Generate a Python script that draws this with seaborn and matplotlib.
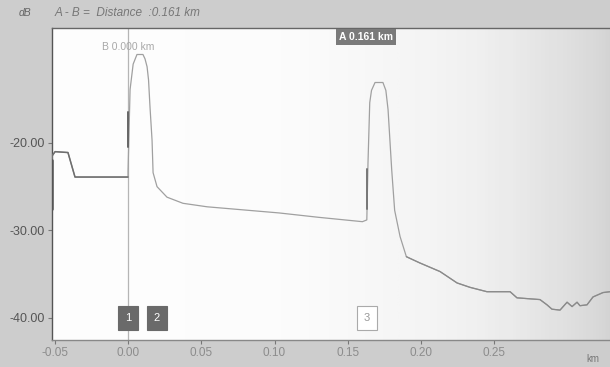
import numpy as np
import matplotlib.pyplot as plt
import pandas as pd
import seaborn as sns

# OTDR trace
dist_km = [-0.0519, -0.0519, -0.0498, -0.0410, -0.0362, -0.0014, 0.0000, 0.0000,
           0.0014, 0.0035, 0.0061, 0.0102, 0.0116, 0.0130, 0.0140, 0.0150, 0.0164,
           0.0171, 0.0198, 0.0266, 0.0375, 0.0540, 0.0750, 0.1030, 0.1300, 0.1600,
           0.1630, 0.1638, 0.1650, 0.1662, 0.1686, 0.1740, 0.1760, 0.1775, 0.1800,
           0.1820, 0.1857, 0.1900, 0.1990, 0.2130, 0.2246, 0.2334, 0.2450, 0.2608,
           0.2655, 0.2812, 0.2860, 0.2894, 0.2949, 0.2997, 0.3031, 0.3065, 0.3085,
           0.3133, 0.3174, 0.3242, 0.3290]
loss_db = [-27.5, -21.5, -21.0, -21.1, -23.9, -23.9, -23.9, -23.3,
           -13.9, -11.0, -9.9, -9.9, -10.4, -11.3, -12.8, -15.9, -19.7,
           -23.4, -25.0, -26.2, -26.9, -27.3, -27.6, -28.0, -28.5, -29.0,
           -28.8, -22.3, -15.4, -14.0, -13.1, -13.1, -14.0, -16.2, -23.1,
           -27.7, -30.7, -33.0, -33.7, -34.7, -36.0, -36.5, -37.0, -37.0,
           -37.7, -37.9, -38.5, -39.0, -39.1, -38.2, -38.7, -38.2, -38.6,
           -38.5, -37.6, -37.1, -37.0]

event_ids = ["1", "2", "3"]
event_km = [0.0, 0.0198, 0.163]
cursor_a = 0.161
cursor_b = 0.000

xticks = [-0.05, 0.00, 0.05, 0.10, 0.15, 0.20, 0.25]
yticks = [-20, -30, -40]

df = pd.DataFrame({"km": dist_km, "dB": loss_db})

sns.set_theme(style="white")
plt.rcParams['font.family'] = ['Liberation Sans', 'DejaVu Sans']

fig = plt.figure(figsize=(6.1, 3.67), dpi=100, facecolor='#cdcdcd')
ax = fig.add_axes([0.085, 0.074, 0.915, 0.85])
ax.set_facecolor('#f4f4f4')

# soft photo-like shading toward the right edge
grad = np.linspace(0, 1, 200) ** 3
ax.imshow(np.tile(grad, (10, 1)), extent=[0, 1, 0, 1], transform=ax.transAxes,
          cmap='Greys', vmin=0, vmax=3.5, aspect='auto', zorder=0, alpha=0.9)

sns.lineplot(data=df, x="km", y="dB", sort=False, estimator=None, ax=ax,
             color='#a0a0a0', linewidth=0.9, zorder=3)
pre = df[df.km <= 0].iloc[:-1]
sns.lineplot(data=pre, x="km", y="dB", sort=False, estimator=None, ax=ax,
             color='#6e6e6e', linewidth=1.1, zorder=4)
tail = df[df.km >= 0.19]
sns.lineplot(data=tail, x="km", y="dB", sort=False, estimator=None, ax=ax,
             color='#8a8a8a', linewidth=0.9, zorder=4)
# darker launch edges
ax.plot([dist_km[0], dist_km[0]], [-27.5, -22.0], color='#555', lw=1.8, zorder=5)
ax.plot([0.0003, 0.0003], [-20.5, -16.5], color='#666', lw=1.4, zorder=5)
ax.plot([0.163, 0.163], [-27.5, -23.0], color='#777', lw=1.4, zorder=5)

# cursor B
ax.axvline(cursor_b, color='#b5b5b5', lw=0.9, zorder=2)
ax.text(cursor_b, -9.1, "B %.3f km" % cursor_b, ha='center', va='center',
        fontsize=7.5, color='#a8a8a8', zorder=6)
ax.text(cursor_a + 0.0015, -7.9, "A %.3f km" % cursor_a, ha='center', va='center',
        fontsize=7.5, color='white', fontweight='bold', zorder=6,
        bbox=dict(boxstyle='square,pad=0.25', fc='#7a7a7a', ec='none'))

# event markers
for lab, x in zip(event_ids, event_km):
    dark = lab != "3"
    ax.text(x, -40.0, lab, ha='center', va='center', fontsize=8,
            color='white' if dark else '#999999', zorder=6,
            bbox=dict(boxstyle='square,pad=0.6', fc='#6a6a6a' if dark else 'white',
                      ec='#6a6a6a' if dark else '#aaaaaa', lw=0.8))

ax.set_xlim(-0.052, 0.329)
ax.set_ylim(-42.5, -6.86)
ax.set_xticks(xticks)
ax.set_xticklabels(["%.2f" % t for t in xticks], fontsize=8.5)
ax.set_yticks(yticks)
ax.set_yticklabels(["%.2f" % t for t in yticks], fontsize=9)
ax.tick_params(axis='both', length=3, width=0.8, colors='#777', direction='out',
               left=True, bottom=True, pad=2)
for t in ax.get_xticklabels():
    t.set_color('#8c8c8c')
for t in ax.get_yticklabels():
    t.set_color('#555555')
ax.set_xlabel("")
ax.set_ylabel("")
ax.spines['right'].set_visible(False)
ax.spines['top'].set_color('#666')
ax.spines['left'].set_color('#555')
ax.spines['bottom'].set_color('#888')
for s in ['top', 'left', 'bottom']:
    ax.spines[s].set_linewidth(1.0)

fig.text(0.03, 0.965, "dB", fontsize=7.5, style='italic', color='#666', va='center')
fig.text(0.09, 0.965, "A - B =  Distance  :0.161 km", fontsize=8.5, style='italic',
         color='#777', va='center')
fig.text(0.962, 0.022, "km", fontsize=7, color='#777', va='center')

fig.savefig("out.png", dpi=100, facecolor=fig.get_facecolor())
